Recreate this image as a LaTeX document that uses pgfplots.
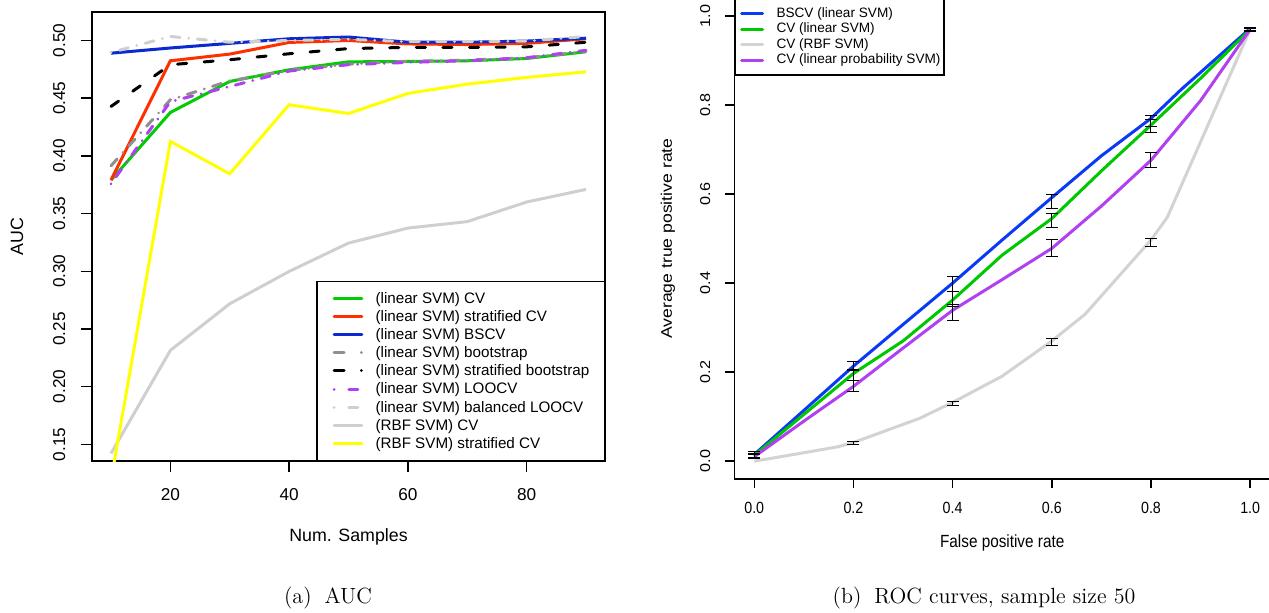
\documentclass[border=0pt]{standalone}
\usepackage{fontspec}
\setsansfont{Liberation Sans}
\usepackage{graphicx}
\usepackage{pgfplots}
\pgfplotsset{compat=1.18}
\definecolor{cgreen}{HTML}{00CD00}
\definecolor{cred}{HTML}{FF3000}
\definecolor{cblue}{HTML}{0A2ACF}
\definecolor{cgray}{HTML}{8F8F8F}
\definecolor{cpurple}{HTML}{B041F0}
\definecolor{clgray}{HTML}{CFCFCF}
\definecolor{cyellow}{HTML}{FFFF00}
\definecolor{rblue}{HTML}{0A3AF5}
\definecolor{rgreen}{HTML}{00C800}
\definecolor{rgray}{HTML}{D3D3D3}
\definecolor{rpurple}{HTML}{B040F0}
\begin{document}
\begin{tikzpicture}
\useasboundingbox (0,0) rectangle (634.5pt,306pt);
% ---------------- left panel ----------------
\begin{axis}[
  at={(46pt,75.5pt)}, anchor=south west, scale only axis,
  width=256.5pt, height=224.5pt,
  xmin=6.8, xmax=93.2, ymin=0.1355, ymax=0.5247,
  xtick={20,40,60,80},
  ytick={0.15,0.20,0.25,0.30,0.35,0.40,0.45,0.50},
  tick pos=left, tick align=outside, major tick length=5.35pt,
  axis line style={line width=0.7pt},
  every tick/.style={black, line width=0.7pt},
  /pgf/number format/assume math mode=true,
  tick label style={font=\sffamily\fontsize{8.6}{10}\selectfont},
  xticklabel style={yshift=-5pt},
  yticklabel style={xshift=-4.5pt, rotate=90, anchor=south,
     /pgf/number format/fixed, /pgf/number format/fixed zerofill,
     /pgf/number format/precision=2},
  xlabel={Num. Samples}, ylabel={AUC},
  label style={font=\sffamily\fontsize{8.9}{10}\selectfont},
  x label style={at={(axis description cs:0.5,-0.1693)}, anchor=center},
  y label style={at={(axis description cs:-0.1462,0.5)}, anchor=center},
  legend cell align=left,
  legend style={at={(1,0)}, anchor=south east, draw=black, line width=0.7pt,
     fill=white, inner xsep=7.5pt, inner ysep=4pt,
     font=\sffamily\fontsize{7.6}{9}\selectfont,
     nodes={inner xsep=0pt, inner ysep=0.27pt, text height=6.7pt, text depth=1.8pt},
     row sep=0pt, column sep=0pt},
  legend image code/.code={\path (0pt,0pt) (21.15pt,0pt);
     \draw[#1, line cap=round, line width=1.5pt] (0.75pt,0pt) -- (14.6pt,0pt);},
]
\addplot[forget plot, cgreen, line width=1.5pt] coordinates {(10,0.379)(20,0.4376)(30,0.4645)(40,0.4746)(50,0.4815)(60,0.4818)(70,0.4824)(80,0.4844)(90,0.4902)};
\addplot[forget plot, cred, line width=1.5pt] coordinates {(10,0.379)(20,0.4824)(30,0.4882)(40,0.4983)(50,0.500)(60,0.497)(70,0.4965)(80,0.4975)(90,0.5015)};
\addplot[forget plot, cblue, line width=1.5pt] coordinates {(10,0.489)(20,0.4935)(30,0.4975)(40,0.5015)(50,0.503)(60,0.4985)(70,0.4985)(80,0.4995)(90,0.502)};
\addplot[forget plot, cgray, line width=1.5pt, line cap=round, dash pattern=on 4.6pt off 4.35pt on 0.01pt off 4.35pt] coordinates {(10,0.3914)(20,0.4486)(30,0.465)(40,0.474)(50,0.4795)(60,0.482)(70,0.483)(80,0.485)(90,0.4905)};
\addplot[forget plot, black, line width=1.5pt, line cap=round, dash pattern=on 4.6pt off 8.7pt] coordinates {(10,0.4428)(20,0.479)(30,0.4833)(40,0.4885)(50,0.493)(60,0.494)(70,0.494)(80,0.4945)(90,0.4985)};
\addplot[forget plot, cpurple, line width=1.5pt, line cap=round, dash pattern=on 0.01pt off 4.35pt on 4.6pt off 4.35pt] coordinates {(10,0.3758)(20,0.447)(30,0.4601)(40,0.4735)(50,0.479)(60,0.481)(70,0.4825)(80,0.485)(90,0.4915)};
\addplot[forget plot, clgray, line width=1.5pt, line cap=round, dash pattern=on 0.01pt off 4.35pt on 4.6pt off 4.35pt] coordinates {(10,0.4896)(20,0.5035)(30,0.4985)(40,0.500)(50,0.501)(60,0.499)(70,0.499)(80,0.4995)(90,0.5035)};
\addplot[forget plot, clgray, line width=1.5pt] coordinates {(10,0.142)(20,0.2314)(30,0.2718)(40,0.2998)(50,0.3244)(60,0.3374)(70,0.343)(80,0.36)(90,0.3709)};
\addplot[forget plot, cyellow, line width=1.5pt] coordinates {(10,0.119)(20,0.4125)(30,0.3845)(40,0.4443)(50,0.4367)(60,0.4541)(70,0.4622)(80,0.468)(90,0.4729)};
\addlegendimage{cgreen}
\addlegendentry{(linear SVM) CV}
\addlegendimage{cred}
\addlegendentry{(linear SVM) stratified CV}
\addlegendimage{cblue}
\addlegendentry{(linear SVM) BSCV}
\addlegendimage{cgray, dash pattern=on 5pt off 8.6pt on 0.01pt off 10pt}
\addlegendentry{(linear SVM) bootstrap}
\addlegendimage{black, dash pattern=on 5pt off 8.6pt on 0.01pt off 10pt}
\addlegendentry{(linear SVM) stratified bootstrap}
\addlegendimage{cpurple, dash pattern=on 0.01pt off 7.35pt on 4.5pt off 10pt}
\addlegendentry{(linear SVM) LOOCV}
\addlegendimage{clgray, dash pattern=on 0.01pt off 7.35pt on 4.5pt off 10pt}
\addlegendentry{(linear SVM) balanced LOOCV}
\addlegendimage{clgray}
\addlegendentry{(RBF SVM) CV}
\addlegendimage{cyellow}
\addlegendentry{(RBF SVM) stratified CV}
\end{axis}
% ---------------- right panel ----------------
\begin{axis}[
  at={(367.2pt,66.5pt)}, anchor=south west, scale only axis,
  width=267.8pt, height=240.4pt,
  xmin=-0.04, xmax=1.04, ymin=-0.04, ymax=1.04,
  axis x line*=bottom, axis y line*=left,
  axis line style={-, line width=0.7pt},
  xtick={0,0.2,0.4,0.6,0.8,1}, ytick={0,0.2,0.4,0.6,0.8,1},
  tick align=outside, major tick length=4.5pt,
  every tick/.style={black, line width=0.7pt},
  /pgf/number format/assume math mode=true,
  tick label style={font=\sffamily\fontsize{8.1}{10}\selectfont},
  xticklabel={\scalebox{0.88}[1]{\pgfmathprintnumber[fixed,fixed zerofill,precision=1]{\tick}}},
  yticklabel={\scalebox{1}[0.88]{\pgfmathprintnumber[fixed,fixed zerofill,precision=1]{\tick}}},
  xticklabel style={yshift=-3.8pt},
  yticklabel style={xshift=-4pt, rotate=90, anchor=south},
  xlabel={\scalebox{0.87}[1]{False positive rate}},
  ylabel={\scalebox{1}[0.87]{Average true positive rate}},
  label style={font=\sffamily\fontsize{8.8}{10}\selectfont},
  x label style={at={(axis description cs:0.5,-0.1331)}, anchor=center},
  y label style={at={(axis description cs:-0.124,0.5)}, anchor=center},
  legend cell align=left,
  legend style={at={(0,1)}, anchor=north west, draw=black, line width=0.7pt,
     fill=white, inner xsep=1.7pt, inner ysep=3.5pt,
     font=\sffamily\fontsize{6.8}{8}\selectfont,
     nodes={inner xsep=0pt, inner ysep=0.17pt, text height=5.6pt, text depth=1.8pt},
     row sep=0pt, column sep=0pt},
  legend image code/.code={\path (0pt,0pt) (17.5pt,0pt);
     \draw[#1, line cap=round, line width=1.5pt] (0.75pt,0pt) -- (11.25pt,0pt);},
]
\addplot[rblue, line width=1.5pt] coordinates {(0,0.015)(0.1,0.114)(0.2,0.2135)(0.3,0.307)(0.4,0.40)(0.5,0.497)(0.6,0.592)(0.7,0.686)(0.8,0.77)(0.86,0.834)(1,0.972)};
\addlegendentry{BSCV (linear SVM)}
\addplot[rgreen, line width=1.5pt] coordinates {(0,0.013)(0.1,0.105)(0.2,0.197)(0.3,0.27)(0.4,0.362)(0.5,0.463)(0.6,0.545)(0.7,0.652)(0.8,0.755)(0.9,0.86)(1,0.97)};
\addlegendentry{CV (linear SVM)}
\addplot[rgray, line width=1.5pt] coordinates {(0,0)(0.1,0.019)(0.167,0.032)(0.2,0.042)(0.333,0.096)(0.4,0.132)(0.5,0.191)(0.6,0.27)(0.667,0.33)(0.8,0.497)(0.833,0.548)(1,0.97)};
\addlegendentry{CV (RBF SVM)}
\addplot[rpurple, line width=1.5pt] coordinates {(0,0.01)(0.1,0.09)(0.2,0.168)(0.3,0.254)(0.4,0.339)(0.5,0.408)(0.6,0.478)(0.7,0.573)(0.8,0.676)(0.9,0.81)(1,0.97)};
\addlegendentry{CV (linear probability SVM)}
\addplot[forget plot, draw=none, mark=none,
   error bars/.cd, y dir=both, y explicit,
   error bar style={draw=black, line width=0.5pt},
   error mark options={draw=black, rotate=90, mark size=3pt, line width=0.5pt}]
 coordinates {
 (0,0.0145) +- (0,0.0065)
 (0.2,0.2145) +- (0,0.0105)
 (0.4,0.398) +- (0,0.016)
 (0.6,0.5835) +- (0,0.0155)
 (0.8,0.764) +- (0,0.013)
 (1,0.971) +- (0,0.004)
 (0,0.013) +- (0,0.005)
 (0.2,0.1935) +- (0,0.0115)
 (0.4,0.3645) +- (0,0.0175)
 (0.6,0.541) +- (0,0.016)
 (0.8,0.7535) +- (0,0.0145)
 (1,0.97) +- (0,0.004)
 (0,0.011) +- (0,0.004)
 (0.2,0.1695) +- (0,0.0125)
 (0.4,0.3345) +- (0,0.0175)
 (0.6,0.4785) +- (0,0.0195)
 (0.8,0.676) +- (0,0.017)
 (1,0.969) +- (0,0.004)
 (0.2,0.041) +- (0,0.0035)
 (0.4,0.1295) +- (0,0.005)
 (0.6,0.268) +- (0,0.0075)
 (0.8,0.4915) +- (0,0.0085)
 (1,0.97) +- (0,0.003)
 };
\end{axis}
\node[font=\rmfamily\fontsize{11}{13}\selectfont] at (164pt,7pt) {(a)\hspace{6.5pt}AUC};
\node[font=\rmfamily\fontsize{11}{13}\selectfont] at (492pt,7pt) {(b)\hspace{6.5pt}ROC curves, sample size 50};
\end{tikzpicture}
\end{document}
